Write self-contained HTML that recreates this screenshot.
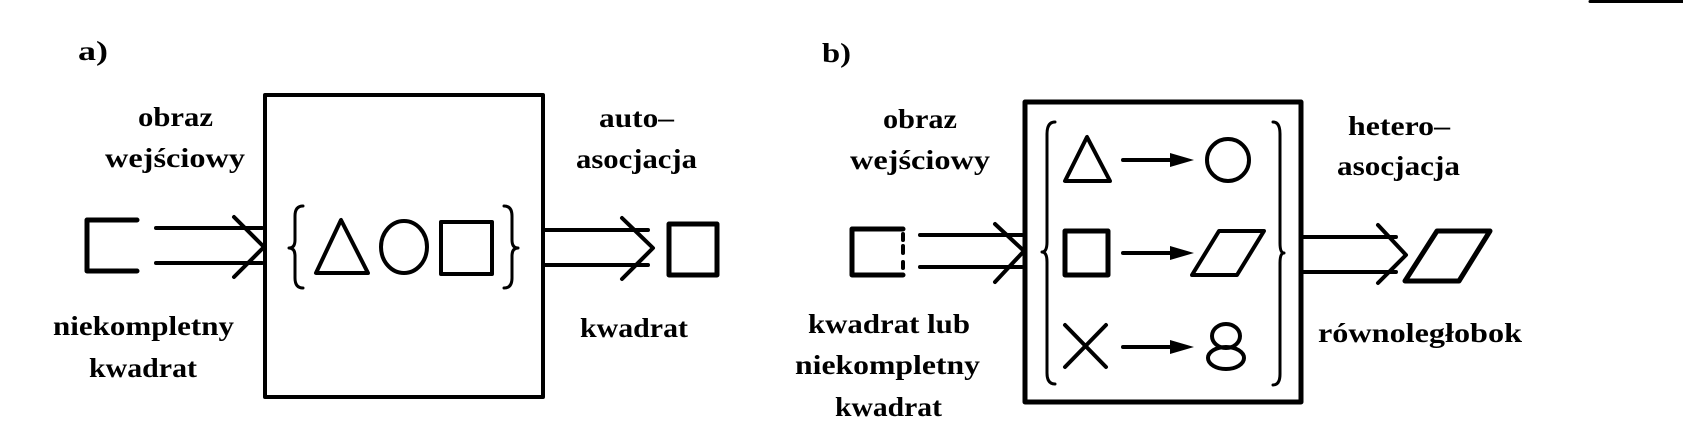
<!DOCTYPE html>
<html><head><meta charset="utf-8"><style>
html,body{margin:0;padding:0;background:#fff;}
svg{display:block;}
text{font-family:"Liberation Serif",serif;font-weight:bold;font-size:27px;fill:#000;}
</style></head><body>
<svg width="1683" height="447" viewBox="0 0 1683 447" xmlns="http://www.w3.org/2000/svg">
<g fill="none" stroke="#000" stroke-linecap="round" stroke-linejoin="round">
<line x1="1590" y1="1.5" x2="1683" y2="1.5" stroke-width="3"/>

<!-- PANEL A -->
<polyline points="137,220 87,220 87,271 137,271" stroke-width="5"/>
<line x1="156" y1="228" x2="262" y2="228" stroke-width="4"/>
<line x1="156" y1="263" x2="262" y2="263" stroke-width="4"/>
<polyline points="234,217 264,247 234,277" stroke-width="4"/>
<rect x="265" y="95" width="278" height="302" stroke-width="4"/>
<path d="M303,206 Q295,206 295,216 L295,240 Q295,248 289,248 Q295,248 295,256 L295,278 Q295,288 303,288" stroke-width="3"/>
<polygon points="341,220 316,273 368,273" stroke-width="4"/>
<ellipse cx="404" cy="247" rx="23" ry="26" stroke-width="4"/>
<rect x="441" y="222" width="51" height="52" stroke-width="4"/>
<path d="M504,206 Q512,206 512,216 L512,240 Q512,248 518,248 Q512,248 512,256 L512,278 Q512,288 504,288" stroke-width="3"/>
<line x1="544" y1="230" x2="648" y2="230" stroke-width="4"/>
<line x1="544" y1="265" x2="648" y2="265" stroke-width="4"/>
<polyline points="622,218 653,248 622,279" stroke-width="4"/>
<rect x="669" y="224" width="48" height="51" stroke-width="5"/>

<!-- PANEL B -->
<polyline points="903,229 852,229 852,275 903,275" stroke-width="5"/>
<line x1="903" y1="234" x2="903" y2="240" stroke-width="4"/>
<line x1="903" y1="246" x2="903" y2="253" stroke-width="4"/>
<line x1="903" y1="262" x2="903" y2="268" stroke-width="4"/>
<line x1="920" y1="235" x2="1022" y2="235" stroke-width="4"/>
<line x1="920" y1="267" x2="1022" y2="267" stroke-width="4"/>
<polyline points="995,224 1024,251 995,282" stroke-width="4"/>
<rect x="1025" y="102" width="276" height="300" stroke-width="5"/>
<path d="M1055,122 Q1047,122 1047,134 L1047,242 Q1047,252 1042,252 Q1047,252 1047,262 L1047,373 Q1047,384 1055,384" stroke-width="3"/>
<path d="M1273,122 Q1280,122 1280,134 L1280,243 Q1280,253 1284,253 Q1280,253 1280,263 L1280,374 Q1280,385 1273,385" stroke-width="3"/>
<polygon points="1087,137 1065,181 1110,181" stroke-width="4"/>
<line x1="1123" y1="160" x2="1175" y2="160" stroke-width="4"/>
<circle cx="1228" cy="160" r="21" stroke-width="4"/>
<rect x="1065" y="231" width="43" height="44" stroke-width="5"/>
<line x1="1123" y1="253" x2="1175" y2="253" stroke-width="4"/>
<polygon points="1219,231 1264,231 1237,275 1192,275" stroke-width="4"/>
<line x1="1065" y1="325" x2="1106" y2="367" stroke-width="4"/>
<line x1="1106" y1="325" x2="1065" y2="367" stroke-width="4"/>
<line x1="1123" y1="347" x2="1175" y2="347" stroke-width="4"/>
<ellipse cx="1226" cy="336" rx="14" ry="12" stroke-width="4"/>
<ellipse cx="1226" cy="358" rx="18" ry="11" stroke-width="4"/>
<line x1="1303" y1="237" x2="1396" y2="237" stroke-width="4"/>
<line x1="1303" y1="272" x2="1396" y2="272" stroke-width="4"/>
<polyline points="1378,225 1406,255 1378,283" stroke-width="4"/>
<polygon points="1437,231 1490,231 1459,281 1405,281" stroke-width="5"/>
</g>
<g fill="#000">
<polygon points="1170,153 1194,160 1170,167"/>
<polygon points="1170,246 1194,253 1170,260"/>
<polygon points="1170,340 1194,347 1170,354"/>
</g>

<!-- TEXT A -->
<text x="78" y="60" textLength="30" lengthAdjust="spacingAndGlyphs">a)</text>
<text x="138" y="126" textLength="75" lengthAdjust="spacingAndGlyphs">obraz</text>
<text x="105" y="167" textLength="140" lengthAdjust="spacingAndGlyphs">wejściowy</text>
<text x="53" y="335" textLength="181" lengthAdjust="spacingAndGlyphs">niekompletny</text>
<text x="89" y="377" textLength="108" lengthAdjust="spacingAndGlyphs">kwadrat</text>
<text x="599" y="127" textLength="75" lengthAdjust="spacingAndGlyphs">auto–</text>
<text x="576" y="168" textLength="121" lengthAdjust="spacingAndGlyphs">asocjacja</text>
<text x="580" y="337" textLength="108" lengthAdjust="spacingAndGlyphs">kwadrat</text>

<!-- TEXT B -->
<text x="822" y="62" textLength="29" lengthAdjust="spacingAndGlyphs">b)</text>
<text x="883" y="128" textLength="74" lengthAdjust="spacingAndGlyphs">obraz</text>
<text x="850" y="169" textLength="140" lengthAdjust="spacingAndGlyphs">wejściowy</text>
<text x="808" y="333" textLength="162" lengthAdjust="spacingAndGlyphs">kwadrat lub</text>
<text x="795" y="374" textLength="185" lengthAdjust="spacingAndGlyphs">niekompletny</text>
<text x="835" y="416" textLength="107" lengthAdjust="spacingAndGlyphs">kwadrat</text>
<text x="1348" y="135" textLength="102" lengthAdjust="spacingAndGlyphs">hetero–</text>
<text x="1337" y="175" textLength="123" lengthAdjust="spacingAndGlyphs">asocjacja</text>
<text x="1318" y="342" textLength="204" lengthAdjust="spacingAndGlyphs">równoległobok</text>
</svg>
</body></html>
